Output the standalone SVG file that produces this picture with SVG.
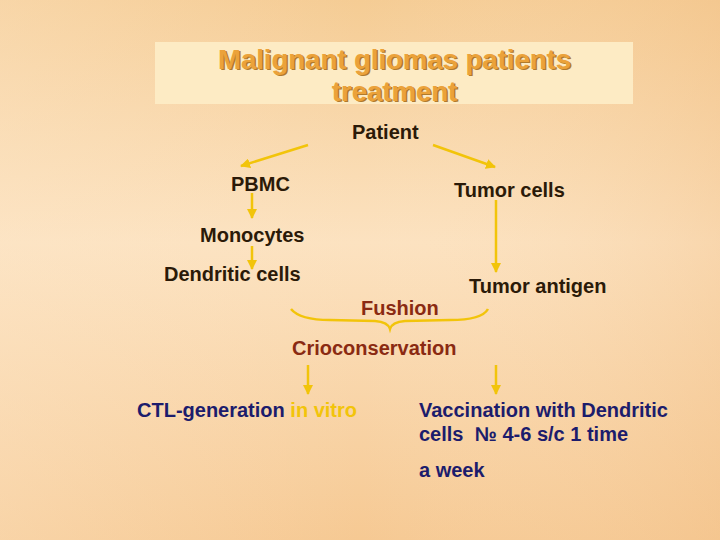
<svg xmlns="http://www.w3.org/2000/svg" width="720" height="540" viewBox="0 0 720 540">
<defs>
<linearGradient id="bg" x1="0" y1="0" x2="0" y2="1">
<stop offset="0" stop-color="#f5cc94"/>
<stop offset="0.45" stop-color="#fce2c0"/>
<stop offset="1" stop-color="#f6c993"/>
</linearGradient>
<linearGradient id="sh" x1="0" y1="0" x2="1" y2="0">
<stop offset="0" stop-color="#fde8cc" stop-opacity="0.35"/>
<stop offset="0.5" stop-color="#fde8cc" stop-opacity="0"/>
<stop offset="1" stop-color="#f2c088" stop-opacity="0.35"/>
</linearGradient>
<marker id="ah" viewBox="0 0 10 10" refX="9" refY="5" markerWidth="4" markerHeight="4" orient="auto" markerUnits="strokeWidth">
<path d="M0,0 L10,5 L0,10 z" fill="#f2c40a"/>
</marker>
<style>
.t{font-family:"Liberation Sans",Arial,sans-serif;font-weight:bold;font-size:20px;fill:#2b1a08}
.r{fill:#8a2a12}
.b{fill:#1c1c6c}
.y{fill:#f2c40a}
.ti{font-family:"Liberation Sans",Arial,sans-serif;font-weight:bold;font-size:27.5px;text-anchor:middle}
.c{stroke:#f2c40a;stroke-width:2.5;fill:none}
</style>
</defs>
<rect width="720" height="540" fill="url(#bg)"/>
<rect width="720" height="540" fill="url(#sh)"/>
<g id="title">
<rect x="155" y="42" width="478" height="62" fill="#fdebc4"/>
<text class="ti" x="396" y="70" fill="#b07a2c">Malignant gliomas patients</text>
<text class="ti" x="396" y="102" fill="#b07a2c">treatment</text>
<text class="ti" x="394.5" y="68.5" fill="#eba23a">Malignant gliomas patients</text>
<text class="ti" x="394.5" y="100.5" fill="#eba23a">treatment</text>
</g>
<g id="connectors">
<line class="c" x1="308" y1="145" x2="241" y2="166" marker-end="url(#ah)"/>
<line class="c" x1="433" y1="145" x2="495" y2="167" marker-end="url(#ah)"/>
<line class="c" x1="252" y1="193" x2="252" y2="218" marker-end="url(#ah)"/>
<line class="c" x1="252" y1="246" x2="252" y2="269" marker-end="url(#ah)"/>
<line class="c" x1="496" y1="200" x2="496" y2="272" marker-end="url(#ah)"/>
<path class="c" stroke-width="2" d="M291,309 Q300,320 330,320 L375,321 Q388,322 390,329 Q392,322 405,321 L450,320 Q482,320 488,309"/>
<line class="c" x1="308" y1="365" x2="308" y2="394" marker-end="url(#ah)"/>
<line class="c" x1="496" y1="365" x2="496" y2="394" marker-end="url(#ah)"/>
</g>
<g id="patient"><text class="t" x="352" y="139">Patient</text></g>
<g id="pbmc"><text class="t" x="231" y="191">PBMC</text></g>
<g id="tumor-cells"><text class="t" x="454" y="197">Tumor cells</text></g>
<g id="monocytes"><text class="t" x="200" y="242">Monocytes</text></g>
<g id="dendritic"><text class="t" x="164" y="281">Dendritic cells</text></g>
<g id="tumor-antigen"><text class="t" x="469" y="293">Tumor antigen</text></g>
<g id="fushion"><text class="t r" x="361" y="315">Fushion</text></g>
<g id="crio"><text class="t r" x="292" y="355">Crioconservation</text></g>
<g id="ctl"><text class="t b" x="137" y="417">CTL-generation <tspan class="y">in vitro</tspan></text></g>
<g id="vaccination">
<text class="t b" x="419" y="417">Vaccination with Dendritic</text>
<text class="t b" x="419" y="441" xml:space="preserve">cells  № 4-6 s/c 1 time</text>
<text class="t b" x="419" y="477">a week</text>
</g>
</svg>
